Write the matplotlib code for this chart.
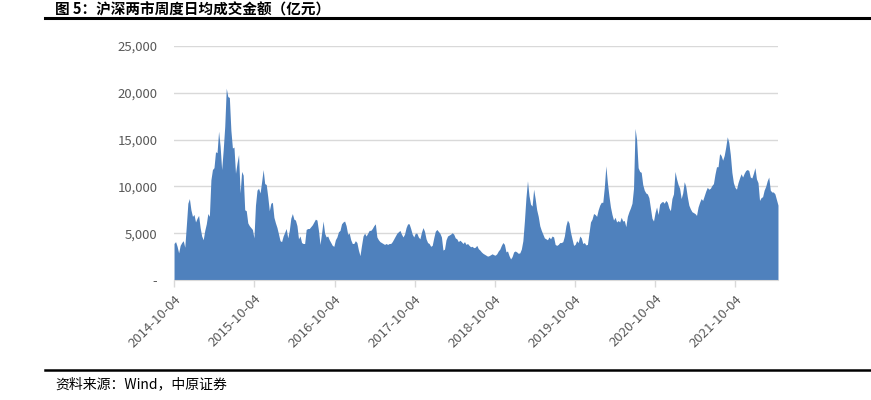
import numpy as np
import pandas as pd
import matplotlib
matplotlib.use("Agg")
import matplotlib.pyplot as plt
from matplotlib.lines import Line2D

plt.rcParams['font.family'] = ['Noto Sans CJK SC', 'DejaVu Sans']

title = "图 5：沪深两市周度日均成交金额（亿元）"
source = "资料来源：Wind，中原证券"

start_date = "2014-10-04"

# weekly average daily turnover (100m yuan), one list per year from early October
y2014 = [3900, 4100, 3600, 2900, 3700, 4000, 4200, 3500, 5800, 8200, 8700, 7500, 6800,
         7000, 6200, 6600, 6900, 5600, 4700, 4300, 5300, 6000, 7100, 6800, 10700, 11800,
         12000, 13700, 13600, 15900, 14300, 11800, 13900, 16400, 20500, 19600, 19500, 16000,
         14100, 14200, 11400, 12500, 13400, 9300, 11600, 11200, 7500, 7400, 6100, 5800, 5600, 5400]
y2015 = [4500, 8000, 9600, 9800, 9300, 10500, 11800, 10300, 10200, 8900, 7400, 8200, 8300,
         6700, 6100, 5600, 4900, 4200, 4100, 4700, 5100, 5500, 4500, 5300, 6600, 7100,
         6500, 6400, 5800, 4400, 4700, 4000, 3900, 3900, 5400, 5500, 5500, 5700, 5900,
         6200, 6500, 6400, 5300, 3800, 5000, 6300, 5000, 4600, 4700, 4300, 4000, 3700]
y2016 = [3600, 4300, 4600, 5150, 5300, 6000, 6200, 6300, 5800, 4900, 5000, 4300, 3900,
         3900, 4200, 4000, 3200, 2600, 3700, 4700, 5000, 4700, 5000, 5300, 5300, 5500,
         5800, 6000, 4600, 4300, 4100, 4000, 3900, 3800, 3900, 3800, 3900, 3900, 4100,
         4400, 4700, 5000, 5150, 5300, 4900, 4600, 4900, 5600, 6000, 6000, 5500, 4900]
y2017 = [4600, 5000, 5000, 4600, 4400, 5100, 5600, 5200, 4400, 4000, 3900, 3600, 3700,
         4500, 5200, 5400, 5200, 5000, 4600, 3200, 3300, 4300, 4700, 4800, 4900, 5050,
         4900, 4500, 4400, 4100, 4250, 4100, 3900, 4100, 3800, 3900, 3700, 3550, 3600,
         3450, 3500, 3700, 3350, 3200, 3000, 2850, 2750, 2650, 2550, 2600, 2700, 2800]
y2018 = [2700, 2650, 2800, 3100, 3300, 3700, 4000, 3800, 3000, 3100, 2600, 2250, 2500,
         3000, 3100, 3000, 2850, 2900, 3300, 4200, 6300, 8800, 10600, 9000, 8100, 7900,
         9700, 8700, 7500, 6800, 5800, 5300, 4900, 4500, 4400, 4300, 4600, 4400, 4700,
         4600, 3800, 3700, 3800, 4000, 4000, 4100, 4700, 5800, 6400, 6100, 5100, 4400]
y2019 = [3700, 3800, 4200, 4000, 4700, 4500, 3900, 4000, 3750, 3800, 5000, 6200, 6500,
         7100, 7000, 6800, 7500, 8000, 8300, 8300, 9900, 12200, 10400, 9000, 7800, 7000,
         6400, 6700, 6200, 6350, 6200, 6700, 6300, 6350, 5700, 6800, 7300, 7700, 8200,
         9800, 16200, 15000, 12000, 11600, 11500, 10200, 9600, 9300, 9200, 8800, 7700, 6600]
y2020 = [6300, 7200, 7800, 7000, 8100, 8300, 8400, 8200, 8500, 8300, 7700, 7400, 8700,
         9200, 11600, 10800, 10200, 9800, 8700, 9300, 10500, 10000, 8900, 8000, 7600, 7300,
         7200, 7100, 6900, 7800, 8300, 8700, 8500, 9000, 9500, 9900, 9700, 9800, 10100,
         10300, 11300, 12100, 12100, 13500, 13300, 12800, 13300, 14200, 15300, 14700, 13400, 11500]
y2021 = [10400, 9900, 9700, 10400, 10900, 11350, 11000, 11400, 11700, 11800, 11700, 11000,
         10900, 11400, 12000, 10800, 10400, 8500, 8800, 8900, 9600, 10000, 10600, 11000,
         9600, 9400, 9400, 9200, 8600, 8000]

values = np.array(y2014 + y2015 + y2016 + y2017 + y2018 + y2019 + y2020 + y2021)
dates = pd.date_range(start_date, periods=len(values), freq="7D")

xtick_dates = pd.date_range(start_date, periods=8, freq=pd.DateOffset(years=1))
xtick_labels = [d.strftime("%Y-%m-%d") for d in xtick_dates]
yticks = [0, 5000, 10000, 15000, 20000, 25000]
ytick_labels = ["-" if v == 0 else f"{v:,}" for v in yticks]

fig = plt.figure(figsize=(8.71, 4.0), dpi=100, facecolor="white")
ax = fig.add_axes([0.1998, 0.30, 0.6934, 0.585])

ax.fill_between(dates, 0, values, color="#4f81bd", lw=0)

ax.set_xlim(dates[0], dates[-1])
ax.set_ylim(0, 25000)
ax.set_yticks(yticks)
ax.set_yticklabels(ytick_labels)
ax.yaxis.grid(True, color="#d9d9d9", lw=1)
ax.set_axisbelow(True)
ax.tick_params(axis="y", length=0, pad=12, labelsize=9.5, labelcolor="#595959")

ax.set_xticks(xtick_dates)
ax.set_xticklabels(xtick_labels, rotation=45, ha="right", rotation_mode="anchor")
ax.tick_params(axis="x", length=5, width=1, color="#d9d9d9", pad=4,
               labelsize=9.5, labelcolor="#595959")

for s in ["top", "right", "left"]:
    ax.spines[s].set_visible(False)
ax.spines["bottom"].set_color("#d9d9d9")

# header / footer
fig.text(0.063, 0.997, title, fontsize=10.5, fontweight="bold", va="top", ha="left")
fig.add_artist(Line2D([0.052, 1.0], [0.956, 0.956], color="black", lw=2.2, transform=fig.transFigure))
fig.add_artist(Line2D([0.052, 1.0], [0.075, 0.075], color="black", lw=1.8, transform=fig.transFigure))
fig.text(0.063, 0.04, source, fontsize=10, va="center", ha="left")

plt.savefig("out.png", dpi=100, facecolor="white")
